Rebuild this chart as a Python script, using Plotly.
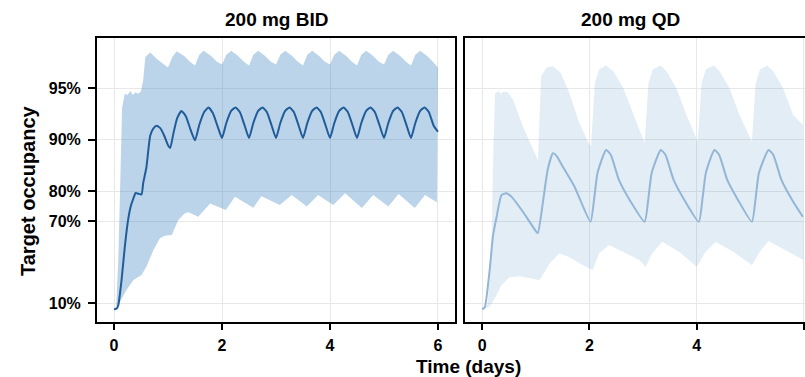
import plotly.graph_objects as go

# ---------------- data (target occupancy, %) ----------------
bid_med_days = [0, 0.05, 0.08, 0.14, 0.2, 0.26, 0.31, 0.36, 0.4, 0.45, 0.51, 0.54, 0.6, 0.67, 0.73, 0.79, 0.86, 0.93, 1.0, 1.04,
                1.1, 1.17, 1.25, 1.33, 1.42, 1.5, 1.58, 1.67, 1.75, 1.83, 1.92,
                2.0, 2.08, 2.17, 2.25, 2.33, 2.42, 2.5, 2.58, 2.67, 2.75, 2.83, 2.92,
                3.0, 3.08, 3.17, 3.25, 3.33, 3.42, 3.5, 3.58, 3.67, 3.75, 3.83, 3.92,
                4.0, 4.08, 4.17, 4.25, 4.33, 4.42, 4.5, 4.58, 4.67, 4.75, 4.83, 4.92,
                5.0, 5.08, 5.17, 5.25, 5.33, 5.42, 5.5, 5.58, 5.67, 5.75, 5.83, 5.92, 6.0]
bid_med = [2.0, 3.0, 7.5, 34.0, 57.7, 70.5, 75.5, 78.0, 79.5, 79.3, 79.1, 82.0, 85.5, 90.5, 91.4, 91.7, 91.4, 90.5, 89.2, 88.8,
           90.8, 92.5, 93.2, 92.7, 91.2, 89.9, 91.8, 93.1, 93.5, 93.0, 91.6,
           90.2, 92.0, 93.2, 93.5, 93.1, 91.7, 90.2, 92.0, 93.2, 93.5, 93.1, 91.7,
           90.2, 92.0, 93.2, 93.5, 93.1, 91.7, 90.2, 92.0, 93.2, 93.5, 93.1, 91.7,
           90.2, 92.0, 93.2, 93.5, 93.1, 91.7, 90.2, 92.0, 93.2, 93.5, 93.1, 91.7,
           90.2, 92.0, 93.2, 93.5, 93.1, 91.7, 90.2, 92.0, 93.2, 93.5, 93.1, 91.7, 91.0]

bid_hi_days = [0, 0.04, 0.08, 0.12, 0.15, 0.2, 0.25, 0.3, 0.35, 0.4, 0.45, 0.5, 0.54, 0.58, 0.67, 0.8, 0.9, 1.0,
               1.08, 1.16, 1.3, 1.4, 1.5, 1.58, 1.66, 1.8, 1.9, 2.0, 2.08, 2.17, 2.3, 2.4, 2.5, 2.58, 2.67, 2.8, 2.9,
               3.0, 3.08, 3.17, 3.3, 3.4, 3.5, 3.58, 3.67, 3.8, 3.9, 4.0, 4.08, 4.17, 4.3, 4.4, 4.5, 4.58, 4.67, 4.8, 4.9,
               5.0, 5.08, 5.17, 5.3, 5.4, 5.5, 5.58, 5.67, 5.8, 5.9, 6.0]
bid_hi = [2.5, 6.0, 50.0, 85.0, 93.5, 94.6, 94.5, 94.8, 94.5, 94.7, 94.6, 94.8, 95.5, 96.7, 96.9, 96.6, 96.4, 96.2,
          96.7, 96.95, 96.75, 96.5, 96.3, 96.8, 96.97, 96.75, 96.5, 96.35, 96.8, 96.97, 96.75, 96.5, 96.3, 96.8, 96.97, 96.75, 96.5,
          96.35, 96.8, 96.97, 96.75, 96.5, 96.3, 96.8, 96.97, 96.75, 96.5, 96.35, 96.8, 96.97, 96.75, 96.5, 96.3, 96.8, 96.97, 96.75, 96.5,
          96.35, 96.8, 96.97, 96.75, 96.5, 96.3, 96.8, 96.97, 96.75, 96.5, 96.2]

bid_lo_days = [0, 0.11, 0.23, 0.36, 0.51, 0.6, 0.73, 0.85, 0.94, 1.07, 1.19, 1.31, 1.38, 1.56, 1.78, 1.85, 2.07, 2.24, 2.58,
               2.73, 3.07, 3.29, 3.57, 3.78, 4.06, 4.28, 4.59, 4.8, 5.08, 5.27, 5.57, 5.76, 5.98]
bid_lo = [1.5, 11.6, 24.4, 34.0, 38.2, 44.8, 55.9, 62.3, 63.6, 63.9, 70.5, 73.1, 73.4, 71.8, 76.4, 75.9, 74.2, 78.4, 75.0,
          78.6, 75.9, 78.9, 75.4, 78.9, 75.9, 79.4, 74.9, 78.9, 75.4, 79.2, 74.9, 78.9, 76.8]

qd_med_days = [0, 0.05, 0.14, 0.2, 0.27, 0.36, 0.45, 0.55, 0.76, 1.01, 1.04, 1.13, 1.22, 1.32, 1.4, 1.47, 1.72,
               2.02, 2.09, 2.15, 2.31, 2.4, 2.55, 2.75, 3.03, 3.1, 3.16, 3.33, 3.42, 3.57, 3.77,
               4.04, 4.11, 4.17, 4.33, 4.42, 4.57, 4.77, 5.03, 5.1, 5.16, 5.34, 5.43, 5.58, 5.78, 5.98]
qd_med = [2.0, 5.0, 42.3, 63.1, 71.8, 78.9, 79.4, 78.4, 73.6, 65.5, 64.9, 76.4, 84.9, 88.0, 87.4, 86.2, 81.2,
          69.8, 78.0, 84.3, 88.5, 87.7, 82.8, 77.5, 69.8, 78.0, 84.3, 88.5, 87.7, 82.8, 77.5,
          69.8, 78.0, 84.3, 88.5, 87.7, 82.8, 77.5, 69.8, 78.0, 84.3, 88.5, 87.7, 82.8, 77.5, 71.8]

qd_hi_days = [0, 0.1, 0.17, 0.2, 0.24, 0.3, 0.35, 0.4, 0.48, 0.58, 0.76, 0.92, 1.04, 1.1, 1.2, 1.32, 1.47, 1.63, 1.81, 1.97,
              2.03, 2.1, 2.18, 2.31, 2.45, 2.63, 2.82, 3.03, 3.1, 3.18, 3.33, 3.44, 3.62, 3.81,
              4.02, 4.09, 4.17, 4.32, 4.43, 4.61, 4.8, 5.03, 5.1, 5.18, 5.32, 5.43, 5.61, 5.8, 5.98]
qd_hi = [2.5, 8.0, 50.0, 85.0, 94.6, 94.8, 94.6, 94.75, 94.7, 94.1, 91.6, 89.0, 86.8, 95.7, 96.2, 96.27, 95.9, 94.6, 92.0, 89.7,
         89.0, 95.3, 96.1, 96.3, 96.0, 95.0, 92.8, 89.5, 95.3, 96.1, 96.3, 96.0, 95.0, 92.8,
         89.7, 95.3, 96.1, 96.3, 96.0, 95.0, 92.8, 89.7, 95.3, 96.1, 96.3, 96.0, 95.0, 92.8, 91.8]

qd_lo_days = [0, 0.14, 0.27, 0.36, 0.51, 0.7, 0.92, 1.07, 1.26, 1.44, 1.63, 1.87, 2.06, 2.18, 2.37, 2.62, 2.93,
              3.05, 3.17, 3.36, 3.67, 4.0, 4.16, 4.35, 4.65, 5.03, 5.18, 5.34, 5.65, 5.99]
qd_lo = [1.5, 5.4, 19.2, 29.3, 36.3, 37.3, 35.4, 34.0, 47.2, 53.9, 51.3, 46.0, 42.3, 53.9, 58.8, 54.9, 49.5,
         44.8, 53.9, 60.5, 54.9, 44.8, 54.5, 60.5, 55.5, 46.0, 55.0, 60.9, 55.9, 49.5]

panel_titles = ["200 mg BID", "200 mg QD"]
y_tick_pct = [10, 70, 80, 90, 95]
x_ticks = [0, 2, 4, 6]

# ---------------- helpers ----------------
def free(p):
    # axis is a reversed log scale of (1 - occupancy)
    return [1 - v / 100.0 for v in p]

FONT = "Liberation Sans, Arial, sans-serif"
BID_LINE = "#1f5c99"
BID_FILL = "rgba(33,113,181,0.30)"
QD_LINE = "#93b6d6"
QD_FILL = "rgba(33,113,181,0.13)"

fig = go.Figure()

def add_panel(hx, hy, lx, ly, mx, my, fill, line, xa, ya):
    fig.add_trace(go.Scatter(
        x=hx + lx[::-1], y=free(hy + ly[::-1]), fill="toself", fillcolor=fill,
        line=dict(width=0), mode="lines", hoverinfo="skip", showlegend=False,
        xaxis=xa, yaxis=ya))
    fig.add_trace(go.Scatter(
        x=mx, y=free(my), mode="lines", line=dict(color=line, width=2, shape="spline", smoothing=0.5),
        showlegend=False, xaxis=xa, yaxis=ya))

add_panel(bid_hi_days, bid_hi, bid_lo_days, bid_lo, bid_med_days, bid_med, BID_FILL, BID_LINE, "x", "y")
add_panel(qd_hi_days, qd_hi, qd_lo_days, qd_lo, qd_med_days, qd_med, QD_FILL, QD_LINE, "x2", "y2")

W, H = 805, 377
ML, MR, MT, MB = 97, 0, 38, 55
PW = W - ML - MR
PH = H - MT - MB

def px_x(px):
    return (px - ML) / PW

def px_y(py):
    return (H - MB - py) / PH

yvals = free(y_tick_pct)
ytext = [f"{v}%" for v in y_tick_pct]

common_x = dict(
    showgrid=True, gridcolor="#e8e8e8", gridwidth=1, zeroline=False,
    showline=True, linecolor="black", linewidth=2,
    ticks="outside", ticklen=6, tickwidth=2, tickcolor="black",
    tickvals=x_ticks, ticktext=[str(v) for v in x_ticks],
    tickfont=dict(family=FONT, size=16, color="black", weight="bold"),
    ticklabelstandoff=2,
)
common_y = dict(
    type="log", range=[0.065, -1.593],
    showgrid=True, gridcolor="#e8e8e8", gridwidth=1, zeroline=False,
    showline=True, linecolor="black", linewidth=2,
    tickvals=yvals, ticktext=ytext,
)

fig.update_layout(
    width=W, height=H,
    margin=dict(l=ML, r=MR, t=MT, b=MB),
    paper_bgcolor="white", plot_bgcolor="white",
    showlegend=False,
    xaxis=dict(domain=[0, px_x(455)], range=[-0.315, 6.315], mirror=True, anchor="y", **common_x),
    xaxis2=dict(domain=[px_x(465), 1.0], range=[-0.32, 6.02], mirror=True, anchor="y2", **common_x),
    yaxis=dict(anchor="x", mirror=True, ticks="outside", ticklen=7, tickwidth=2, tickcolor="black",
               tickfont=dict(family=FONT, size=16, color="black", weight="bold"), ticklabelstandoff=4,
               **common_y),
    yaxis2=dict(anchor="x2", matches="y", mirror=False, ticks="", showticklabels=False, **common_y),
    annotations=[
        dict(text=f"<b>{panel_titles[0]}</b>", x=px_x(276), y=1, xref="paper", yref="paper",
             xanchor="center", yanchor="bottom", yshift=6, showarrow=False,
             font=dict(family=FONT, size=19, color="black")),
        dict(text=f"<b>{panel_titles[1]}</b>", x=px_x(630), y=1, xref="paper", yref="paper",
             xanchor="center", yanchor="bottom", yshift=6, showarrow=False,
             font=dict(family=FONT, size=19, color="black")),
        dict(text="<b>Target occupancy</b>", x=px_x(28), y=px_y(191), xref="paper", yref="paper",
             xanchor="center", yanchor="middle", textangle=-90, showarrow=False,
             font=dict(family=FONT, size=20, color="black")),
        dict(text="<b>Time (days)</b>", x=px_x(468), y=px_y(366), xref="paper", yref="paper",
             xanchor="center", yanchor="middle", showarrow=False,
             font=dict(family=FONT, size=19, color="black")),
    ],
)

fig.write_html("out.html")
